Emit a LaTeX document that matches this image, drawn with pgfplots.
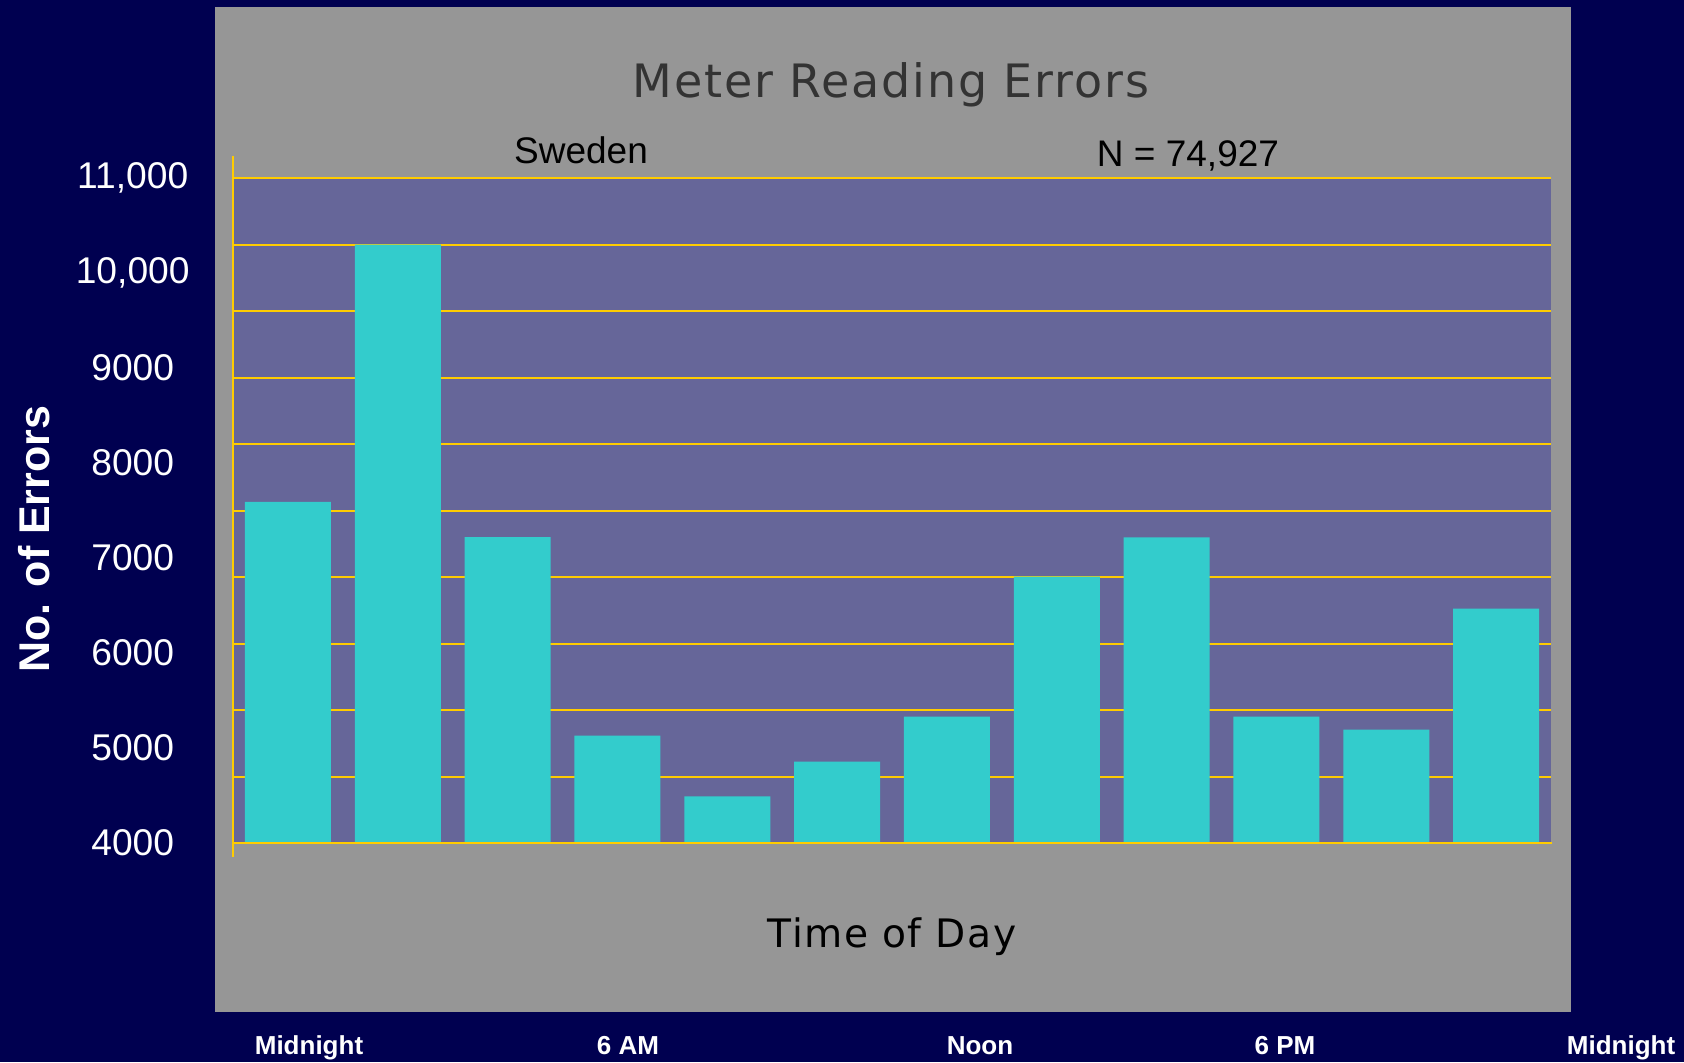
\documentclass[border=0pt]{standalone}
\usepackage{fontspec}
\setmainfont{Liberation Sans}
\newfontfamily\titlefont[LetterSpace=4]{DejaVu Sans}
\usepackage{pgfplots}
\pgfplotsset{compat=1.18}
\definecolor{navybg}{RGB}{0,0,80}
\definecolor{panelgray}{RGB}{150,150,150}
\definecolor{plotpurple}{RGB}{102,102,153}
\definecolor{barcyan}{RGB}{51,204,204}
\definecolor{gridgold}{RGB}{255,204,0}
\definecolor{titlegray}{RGB}{51,51,51}
\begin{document}
\begin{tikzpicture}[x=0.5pt,y=0.5pt]
\useasboundingbox (0,0) rectangle (1684,1062);
\fill[navybg] (0,0) rectangle (1684,1062);
\fill[panelgray] (215,50) rectangle (1571,1055);
\begin{axis}[
  at={(116.5pt,109.5pt)}, anchor=south west,
  scale only axis, width=659pt, height=332.5pt,
  xmin=0, xmax=24, ymin=4000, ymax=11000,
  scaled y ticks=false,
  axis background/.style={fill=plotpurple},
  axis line style={draw=none},
  xtick=\empty,
  ytick={4000,5000,6000,7000,8000,9000,10000,11000},
  yticklabels={4000,5000,6000,7000,8000,9000,{10,000},{11,000}},
  yticklabel style={anchor=center, xshift=-50.15pt, text=white,
    font=\fontsize{18.6pt}{21pt}\selectfont},
  major tick length=0pt, minor tick length=0pt,
  minor ytick={4700,5400,6100,6800,7500,8200,8900,9600,10300,11000},
  yminorgrids, minor grid style={gridgold, line width=1pt},
  ymajorgrids=false,
  title={Meter Reading Errors},
  title style={at={(axis description cs:0.4992,1.1031)}, anchor=base,
    text=titlegray, font=\titlefont\fontsize{23pt}{26pt}\selectfont},
  xlabel={Time of Day},
  xlabel style={at={(axis description cs:0.5,-0.1568)}, anchor=base,
    text=black, font=\titlefont\fontsize{19.6pt}{22pt}\selectfont},
  ylabel={No. of Errors},
  ylabel style={at={(axis description cs:-0.1394,0.4571)}, anchor=base,
    text=white, font=\bfseries\fontsize{21.5pt}{24pt}\selectfont},
  ybar, bar width=43pt,
]
\addplot[fill=barcyan, draw=none, bar shift=0pt] coordinates {
  (1,7590) (3,10300) (5,7220) (7,5130) (9,4490) (11,4858)
  (13,5330) (15,6805) (17,7218) (19,5330) (21,5193) (23,6468)
};
\end{axis}
\draw[gridgold, line width=1.25pt] (233,219) -- (1552,219);
\draw[gridgold, line width=1.3pt] (233,205) -- (233,906);
\node[anchor=base, font=\fontsize{18.5pt}{21pt}\selectfont] at (581,898.7) {Sweden};
\node[anchor=base, font=\fontsize{18.5pt}{21pt}\selectfont] at (1188,895.3) {N = 74,927};
\begin{scope}[every node/.style={anchor=base, text=white, font=\bfseries\fontsize{13pt}{15pt}\selectfont}]
\node at (309,8) {Midnight};
\node at (628,8) {6 AM};
\node at (980,8) {Noon};
\node at (1285,8) {6 PM};
\node at (1621,8) {Midnight};
\end{scope}
\end{tikzpicture}
\end{document}
